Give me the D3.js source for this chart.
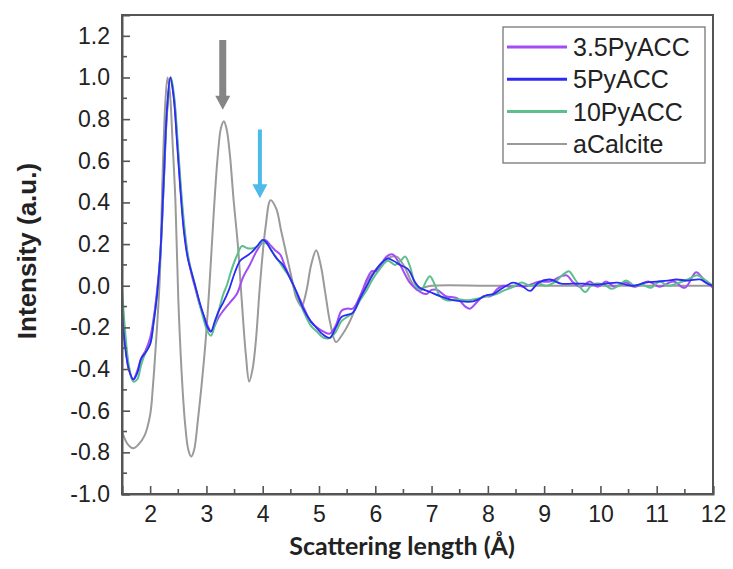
<!DOCTYPE html>
<html><head><meta charset="utf-8">
<script src="https://d3js.org/d3.v7.min.js"></script>
<style>body{margin:0;background:#fff}svg{display:block}</style>
</head><body><div id="c"></div>
<script>
const seriesNames = ["3.5PyACC","5PyACC","10PyACC","aCalcite"];
const seriesColors = ["#a24cf5","#2b2bf5","#5cbf8c","#9a9a9a"];
const xTicks = [2,3,4,5,6,7,8,9,10,11,12];
const yTicks = [-1.0,-0.8,-0.6,-0.4,-0.2,0.0,0.2,0.4,0.6,0.8,1.0,1.2];

const calX = [1.5,1.6,1.7,1.8,1.9,2.0,2.05,2.1,2.17,2.22,2.27,2.31,2.35,2.40,2.45,2.50,2.56,2.62,2.68,2.73,2.78,2.85,2.92,2.99,3.06,3.13,3.20,3.26,3.31,3.36,3.42,3.48,3.56,3.63,3.70,3.76,3.82,3.88,3.95,4.05,4.14,4.24,4.33,4.43,4.52,4.60,4.69,4.78,4.86,4.95,5.03,5.12,5.20,5.30,5.40,5.55,5.73,5.90,6.05,6.20,6.38,6.52,6.64,6.74,6.85,7.0,8.0,9.0,10.0,11.0,12.0];
const calY = [-0.70,-0.76,-0.78,-0.76,-0.72,-0.62,-0.48,-0.29,0.03,0.52,0.88,1.0,0.93,0.68,0.40,-0.06,-0.42,-0.66,-0.79,-0.82,-0.79,-0.64,-0.46,-0.25,0.03,0.35,0.62,0.76,0.79,0.75,0.62,0.42,0.19,-0.08,-0.33,-0.46,-0.40,-0.26,0.0,0.28,0.41,0.37,0.26,0.14,0.03,-0.06,-0.10,-0.02,0.10,0.17,0.10,-0.05,-0.18,-0.27,-0.24,-0.17,-0.05,0.04,0.09,0.13,0.14,0.09,0.02,-0.02,-0.01,0.0,0.0,0.0,0.0,0.0,0.0];

const p5X = [1.5,1.55,1.62,1.70,1.77,1.84,1.92,2.00,2.06,2.12,2.18,2.24,2.30,2.36,2.42,2.48,2.54,2.60,2.67,2.74,2.80,2.88,2.96,3.02,3.08,3.15,3.22,3.30,3.40,3.50,3.60,3.70,3.80,3.90,4.0,4.06,4.15,4.25,4.36,4.48,4.60,4.72,4.85,4.95,5.05,5.19,5.30,5.40,5.50,5.60,5.73,5.85,5.95,6.08,6.22,6.32,6.44,6.58,6.70,6.79,6.97,7.15,7.40,7.74,7.98,8.10,8.27,8.45,8.60,8.75,8.90,9.1,9.3,9.5,9.7,9.9,10.1,10.3,10.45,10.6,10.8,11.0,11.2,11.35,11.55,11.77,11.9,12.0];
const p5Y = [-0.12,-0.28,-0.40,-0.45,-0.42,-0.35,-0.32,-0.28,-0.18,-0.05,0.15,0.50,0.85,1.0,0.90,0.68,0.45,0.26,0.13,0.06,0.0,-0.08,-0.15,-0.20,-0.22,-0.17,-0.12,-0.08,-0.02,0.06,0.12,0.14,0.16,0.19,0.22,0.21,0.17,0.13,0.10,0.04,-0.03,-0.11,-0.17,-0.20,-0.23,-0.25,-0.20,-0.15,-0.14,-0.13,-0.06,0.0,0.05,0.10,0.13,0.12,0.10,0.08,0.02,-0.01,-0.03,-0.05,-0.07,-0.075,-0.045,-0.04,-0.01,0.015,0.0,-0.025,0.015,0.03,0.01,0.01,0.01,0.005,0.01,0.015,0.005,0.0,0.015,0.02,0.025,0.03,0.025,0.03,0.01,0.0];

const p35X = [1.5,1.55,1.62,1.70,1.77,1.84,1.92,2.00,2.06,2.12,2.18,2.24,2.30,2.36,2.42,2.48,2.54,2.60,2.67,2.74,2.80,2.88,2.96,3.02,3.08,3.15,3.22,3.30,3.42,3.54,3.65,3.77,3.90,4.04,4.12,4.22,4.31,4.40,4.50,4.60,4.72,4.85,4.96,5.08,5.19,5.30,5.40,5.50,5.60,5.73,5.85,5.94,6.02,6.10,6.20,6.31,6.40,6.50,6.60,6.70,6.80,6.91,7.0,7.10,7.25,7.45,7.60,7.68,7.80,7.92,8.05,8.15,8.27,8.40,8.55,8.65,8.80,8.92,9.10,9.30,9.40,9.52,9.65,9.81,9.95,10.10,10.25,10.45,10.60,10.85,11.05,11.30,11.50,11.70,11.85,12.0];
const p35Y = [-0.10,-0.26,-0.40,-0.45,-0.41,-0.35,-0.31,-0.25,-0.16,-0.03,0.14,0.48,0.83,1.0,0.91,0.70,0.47,0.28,0.14,0.05,-0.01,-0.09,-0.15,-0.19,-0.22,-0.19,-0.15,-0.12,-0.08,-0.04,0.04,0.10,0.17,0.22,0.20,0.17,0.15,0.09,0.03,-0.03,-0.10,-0.17,-0.20,-0.22,-0.23,-0.19,-0.12,-0.11,-0.11,-0.05,0.03,0.07,0.07,0.10,0.14,0.15,0.12,0.07,0.02,-0.01,-0.03,-0.04,-0.02,-0.02,-0.05,-0.06,-0.10,-0.11,-0.08,-0.05,-0.05,-0.02,0.0,-0.005,0.0,-0.005,0.01,0.02,0.02,0.045,0.05,0.015,-0.005,0.02,-0.005,0.02,-0.005,0.015,-0.005,0.02,-0.005,0.02,-0.01,0.065,0.025,-0.01];

const p10X = [1.5,1.55,1.62,1.70,1.77,1.84,1.92,2.00,2.06,2.12,2.18,2.24,2.30,2.37,2.43,2.49,2.55,2.61,2.67,2.74,2.80,2.88,2.96,3.02,3.08,3.15,3.22,3.30,3.36,3.45,3.55,3.63,3.73,3.83,3.92,4.0,4.08,4.18,4.28,4.38,4.48,4.60,4.72,4.85,4.96,5.08,5.20,5.30,5.40,5.50,5.60,5.73,5.85,5.95,6.08,6.22,6.35,6.45,6.53,6.62,6.72,6.82,6.90,6.97,7.05,7.15,7.27,7.45,7.65,7.85,8.0,8.15,8.27,8.45,8.60,8.75,8.90,9.05,9.20,9.32,9.44,9.55,9.73,9.85,10.0,10.1,10.2,10.32,10.46,10.60,10.75,10.90,11.05,11.2,11.35,11.55,11.72,11.85,12.0];
const p10Y = [-0.01,-0.20,-0.38,-0.46,-0.45,-0.38,-0.32,-0.28,-0.18,-0.05,0.14,0.48,0.84,1.0,0.90,0.69,0.46,0.28,0.15,0.06,0.0,-0.09,-0.17,-0.22,-0.24,-0.19,-0.12,-0.04,0.0,0.08,0.15,0.19,0.18,0.18,0.19,0.21,0.20,0.16,0.12,0.08,0.04,-0.04,-0.12,-0.19,-0.22,-0.25,-0.25,-0.22,-0.17,-0.15,-0.13,-0.07,-0.02,0.03,0.08,0.12,0.10,0.12,0.14,0.09,0.0,-0.02,0.02,0.045,0.01,-0.05,-0.07,-0.065,-0.07,-0.06,-0.05,-0.04,-0.025,-0.005,0.015,0.0,0.01,0.0,0.02,0.05,0.07,0.03,-0.03,0.005,0.01,0.0,-0.015,0.0,0.025,0.0,0.005,-0.01,0.02,0.0,0.01,0.03,0.05,0.03,0.0];

// arrow annotations (data coords): x, top, tip
const arrowX = [3.29, 3.95];
const arrowTop = [1.18, 0.75];
const arrowTip = [0.845, 0.42];
const arrowColors = ["#858585","#4dbbea"];

const W = 733, H = 569;
const svg = d3.select("#c").append("svg").attr("width", W).attr("height", H);
const x = d3.scaleLinear().domain([1.5, 12]).range([122, 713]);
const y = d3.scaleLinear().domain([-1.0, 1.3]).range([494, 15]);

const series = [
  {xs: calX, ys: calY, c: seriesColors[3], w: 2},
  {xs: p35X, ys: p35Y, c: seriesColors[0], w: 2},
  {xs: p10X, ys: p10Y, c: seriesColors[2], w: 2},
  {xs: p5X, ys: p5Y, c: seriesColors[1], w: 1.8}
];
const line = d3.line().x(d => x(d[0])).y(d => y(d[1])).curve(d3.curveCatmullRom.alpha(0.5));
svg.append("clipPath").attr("id","pc").append("rect")
  .attr("x", 122).attr("y", 15).attr("width", 591).attr("height", 479);
const g = svg.append("g").attr("clip-path","url(#pc)");
series.forEach(s => {
  g.append("path").datum(s.xs.map((v,i)=>[v, s.ys[i]]))
   .attr("d", line).attr("fill","none").attr("stroke", s.c)
   .attr("stroke-width", s.w).attr("stroke-linejoin","round");
});

// arrows
arrowX.forEach((ax, i) => {
  const cx = x(ax), t = y(arrowTop[i]), tip = y(arrowTip[i]);
  const sw = i === 0 ? 3.5 : 2, hw = 7.5, hl = 14;
  const p = `M${cx-sw},${t} L${cx+sw},${t} L${cx+sw},${tip-hl} L${cx+hw},${tip-hl} L${cx},${tip} L${cx-hw},${tip-hl} L${cx-sw},${tip-hl} Z`;
  svg.append("path").attr("d", p).attr("fill", arrowColors[i]);
});

// frame
const frameColor = "#555";
svg.append("rect").attr("x",122).attr("y",15).attr("width",591).attr("height",479)
  .attr("fill","none").attr("stroke",frameColor).attr("stroke-width",2);

// y axis
const fmtY = d => d3.format(".1f")(d).replace("\u2212", "-");
const yAxis = d3.axisLeft(y).tickValues(yTicks).tickSize(-8).tickPadding(12).tickFormat(fmtY);
const ya = svg.append("g").attr("transform","translate(122,0)").call(yAxis);
const yMinor = d3.range(-0.9, 1.3, 0.2);
ya.selectAll(".minor").data(yMinor).enter().append("line").attr("class","minor")
  .attr("x1",0).attr("x2",5).attr("y1",d=>y(d)).attr("y2",d=>y(d));
// x axis
const xAxis = d3.axisBottom(x).tickValues(xTicks).tickSize(-8).tickPadding(12)
  .tickFormat(d3.format("d"));
const xa = svg.append("g").attr("transform","translate(0,494)").call(xAxis);
const xMinor = d3.range(2.5, 12, 1);
xa.selectAll(".minor").data(xMinor).enter().append("line").attr("class","minor")
  .attr("y1",0).attr("y2",-5).attr("x1",d=>x(d)).attr("x2",d=>x(d));
[ya, xa].forEach(a => {
  a.select(".domain").attr("stroke", frameColor).attr("stroke-width", 2);
  a.selectAll("line").attr("stroke", frameColor).attr("stroke-width", 1.6);
  a.selectAll("text").attr("font-family","Liberation Sans, Arial, sans-serif")
    .attr("font-size", 23).attr("fill","#222");
});

// axis titles
svg.append("text").attr("x", 402).attr("y", 555).attr("text-anchor","middle")
  .attr("font-family","Lato, 'Open Sans', sans-serif").attr("font-weight","bold")
  .attr("font-size", 25).attr("fill","#222").text("Scattering length (Å)");
svg.append("text").attr("transform","translate(36,251) rotate(-90)").attr("text-anchor","middle")
  .attr("font-family","Liberation Sans, Arial, sans-serif").attr("font-weight","bold")
  .attr("font-size", 26).attr("fill","#222").text("Intensity (a.u.)");

// legend
const lg = svg.append("g");
lg.append("rect").attr("x",503).attr("y",27).attr("width",202).attr("height",136)
  .attr("fill","#fff").attr("stroke","#777").attr("stroke-width",1.3);
seriesNames.forEach((n,i) => {
  const yy = 47 + i*32.3;
  lg.append("line").attr("x1",507).attr("x2",567).attr("y1",yy).attr("y2",yy)
    .attr("stroke", seriesColors[i]).attr("stroke-width", i===3 ? 2 : 3);
  lg.append("text").attr("x",573).attr("y",yy).attr("dy","0.36em")
    .attr("font-family","Liberation Sans, Arial, sans-serif").attr("font-size",25)
    .attr("fill","#222").text(n);
});
</script></body></html>
